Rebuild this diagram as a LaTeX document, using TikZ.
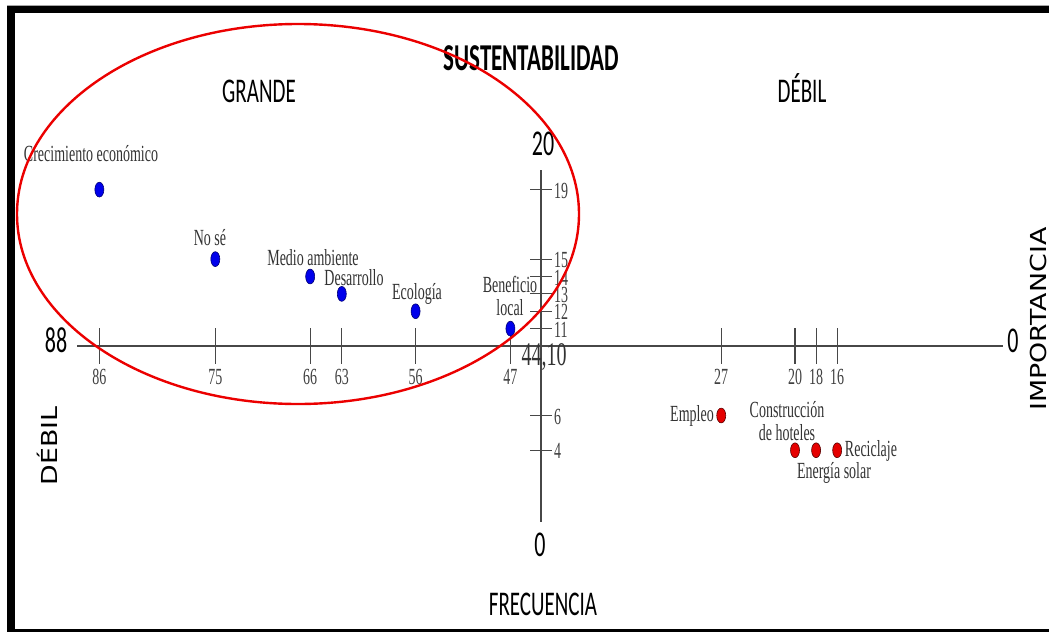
\documentclass[tikz,border=0pt]{standalone}
\usepackage{fontspec}
\setmainfont{Liberation Serif}
\newfontfamily\calfont{Carlito}
\newfontfamily\gothfont{DejaVu Sans}

\tikzset{
  tallshape/.style = {yscale=1.65, inner sep=0pt},
  ptlabel/.style   = {tallshape, text=black!80, align=center,
                      font=\fontsize{14}{14}\selectfont},
  ticklabel/.style = {tallshape, text=black!75,
                      font=\fontsize{14}{14}\selectfont},
  endlabel/.style  = {tallshape, anchor=base,
                      font=\calfont\fontsize{22}{22}\selectfont},
  zonelabel/.style = {tallshape, anchor=base,
                      font=\calfont\fontsize{21}{21}\selectfont},
  sidelabel/.style = {rotate=90, xscale=1.22, inner sep=0pt, anchor=base,
                      font=\gothfont\fontsize{22}{22}\selectfont},
  bluedot/.style   = {circle, tallshape, minimum size=9pt, line width=0.6pt,
                      draw=blue!45!black, fill=blue!92!black},
  reddot/.style    = {circle, tallshape, minimum size=9pt, line width=0.6pt,
                      draw=red!35!black, fill=red!90!black},
  axisline/.style  = {draw=black!72, line width=1.8pt},
  tickmark/.style  = {draw=black!72, line width=1.2pt},
  ring/.style      = {draw=red!92!black, line width=2.4pt}
}

\begin{document}
\begin{tikzpicture}[x=1pt, y=-1pt]
\useasboundingbox (0,0) rectangle (1049,632);

% frame
\fill[black!35] (7,4.5) rectangle (1049,6);
\fill[black] (7,6) rectangle (1049,13);
\fill[black] (7,6) rectangle (15,632);
\fill[black] (7,629) rectangle (1049,632);

% axes
\coordinate (hstart) at (77,346);
\coordinate (hend)   at (1003,346);
\coordinate (vtop)   at (541,170);
\coordinate (vbot)   at (541,522);
\draw[axisline] (hstart) -- (hend);
\draw[axisline, line width=1.4pt] (vtop) -- (vbot);

\node[endlabel] (n88)   at (56,352)   {88};
\node[endlabel] (hzero) at (1013,352) {0};
\node[endlabel] (n20)   at (543,155)  {20};
\node[endlabel] (vzero) at (540,556)  {0};
\node[ptlabel, font=\fontsize{20}{20}\selectfont] (cross) at (544,357) {44,10};

% frecuencia ticks
\foreach \v in {86,75,66,63,56,47,27,20,18,16} {
  \coordinate (h\v) at ({541+(44.1-\v)*10.54},346);
  \draw[tickmark] ([yshift=18pt]h\v) -- ([yshift=-18pt]h\v);
  \node[ticklabel] (lh\v) at ([yshift=-31pt]h\v) {\v};
}

% importancia ticks
\foreach \w in {19,15,14,13,12,11,6,4} {
  \coordinate (v\w) at (541,{346-(\w-10)*17.375});
  \draw[tickmark] ([xshift=-11pt]v\w) -- ([xshift=11pt]v\w);
  \node[ticklabel, anchor=west] (lv\w) at ([xshift=13pt,yshift=-1pt]v\w) {\w};
}

% titles
\node[zonelabel, font=\calfont\bfseries\fontsize{23}{23}\selectfont]
    (title) at (531,70) {SUSTENTABILIDAD};
\node[zonelabel] (grande) at (259,102) {GRANDE};
\node[zonelabel] (debtop) at (802,102) {DÉBIL};
\node[zonelabel] (frec)   at (543,615) {FRECUENCIA};
\node[sidelabel] (debside) at (57,446)   {DÉBIL};
\node[sidelabel] (imp)     at (1046,319) {IMPORTANCIA};

% grande
\node[bluedot] (crec)  at (h86 |- v19) {};
\node[bluedot] (nose)  at (h75 |- v15) {};
\node[bluedot] (medio) at (h66 |- v14) {};
\node[bluedot] (desa)  at (h63 |- v13) {};
\node[bluedot] (ecol)  at (h56 |- v12) {};
\node[bluedot] (benef) at (h47 |- v11) {};

\node[ptlabel] (lcrec)  at (91,154)  {Crecimiento económico};
\node[ptlabel] (lnose)  at (210,238) {No sé};
\node[ptlabel] (lmedio) at (313,258) {Medio ambiente};
\node[ptlabel] (ldesa)  at (354,278) {Desarrollo};
\node[ptlabel] (lecol)  at (417,294) {Ecología};
\node[ptlabel] (lbenef) at (510,296) {Beneficio\\local};

% debil
\node[reddot] (empleo) at (h27 |- v6) {};
\node[reddot] (const)  at (h20 |- v4) {};
\node[reddot] (energ)  at (h18 |- v4) {};
\node[reddot] (recic)  at (h16 |- v4) {};

\node[ptlabel] (lempleo) at (692,416) {Empleo};
\node[ptlabel] (lconst)  at (787,421) {Construcción\\de hoteles};
\node[ptlabel] (lrecic)  at (871,451) {Reciclaje};
\node[ptlabel] (lenerg)  at (834,473) {Energía solar};

\draw[ring] (298,214) ellipse [x radius=281, y radius=190];
\end{tikzpicture}
\end{document}
